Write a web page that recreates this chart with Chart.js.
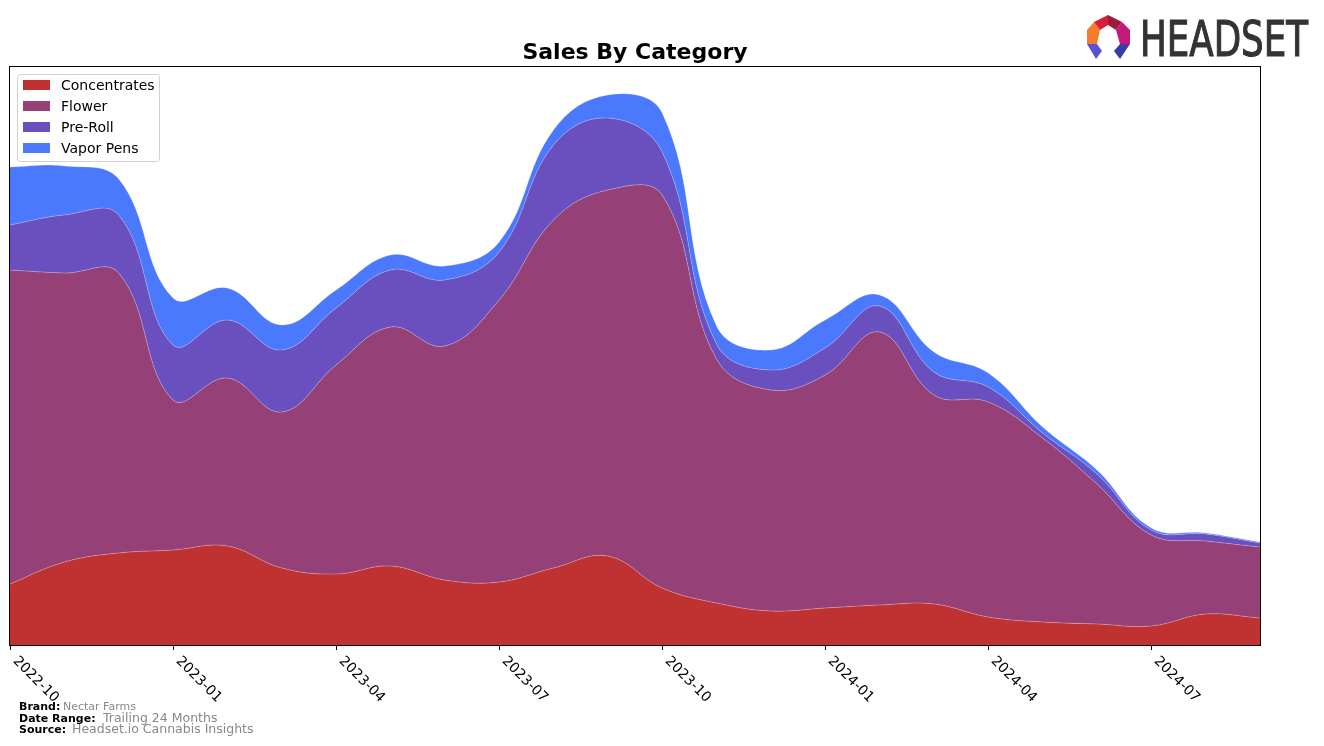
<!DOCTYPE html>
<html>
<head>
<meta charset="utf-8">
<script src="https://cdn.jsdelivr.net/npm/chart.js@4/dist/chart.umd.min.js"></script>
<style>
  body { margin: 0; background: #fff; }
  canvas { display: block; }
</style>
</head>
<body>
<canvas id="salesChart" width="1324" height="746" style="width:1324px;height:746px"></canvas>
<script>
// months shown, one point per month
const months = ['2022-10','2022-11','2022-12','2023-01','2023-02','2023-03','2023-04','2023-05',
    '2023-06','2023-07','2023-08','2023-09','2023-10','2023-11','2023-12','2024-01',
    '2024-02','2024-03','2024-04','2024-05','2024-06','2024-07','2024-08','2024-09'];
const tickLabels = ['2022-10','2023-01','2023-04','2023-07','2023-10','2024-01','2024-04','2024-07'];

// values (no units on the y axis)
const concentrates = [61, 83, 92, 95, 99, 77, 71, 79, 65, 63, 77, 89, 57, 42, 34, 37, 40, 41, 28, 23, 21, 19, 31, 27];
const flower = [314, 289, 280, 150, 168, 156, 209, 239, 234, 282, 348, 366, 393, 244, 221, 233, 273, 209, 215, 184, 140, 91, 73, 71];
const preRoll = [45, 58, 58, 55, 58, 62, 57, 57, 66, 48, 75, 72, 43, 15, 20, 27, 26, 23, 15, 5, 10, 5, 7, 4];
const vaporPens = [58, 49, 36, 47, 32, 25, 18, 15, 14, 10, 15, 23, 39, 18, 20, 28, 11, 20, 14, 6, 4, 2, 1, 1];

const series = [
    { name: 'Concentrates', data: concentrates, color: '#c03232' },
    { name: 'Flower', data: flower, color: '#954178' },
    { name: 'Pre-Roll', data: preRoll, color: '#6a4fbe' },
    { name: 'Vapor Pens', data: vaporPens, color: '#4a79fe' },
];

const extras = {
    id: 'extras',
    afterDraw(chart) {
        const ctx = chart.ctx;
        const area = chart.chartArea;
        const xScale = chart.scales.x;
        ctx.save();

        // frame
        ctx.strokeStyle = '#000';
        ctx.lineWidth = 1;
        ctx.strokeRect(Math.round(area.left) - 0.5, Math.round(area.top) - 0.5,
            Math.round(area.right - area.left) + 1, Math.round(area.bottom - area.top) + 1);

        // x ticks and rotated labels
        ctx.font = '14px "DejaVu Sans"';
        ctx.fillStyle = '#000';
        ctx.textAlign = 'left';
        ctx.textBaseline = 'top';
        tickLabels.forEach(label => {
            const x = Math.round(xScale.getPixelForValue(months.indexOf(label)));
            ctx.beginPath();
            ctx.moveTo(x + 0.5, area.bottom);
            ctx.lineTo(x + 0.5, area.bottom + 5);
            ctx.stroke();
            ctx.save();
            ctx.translate(x + 10, area.bottom + 9);
            ctx.rotate(Math.PI / 4);
            ctx.fillText(label, 0, 0);
            ctx.restore();
        });

        // title
        ctx.font = 'bold 22px "DejaVu Sans"';
        ctx.textAlign = 'center';
        ctx.textBaseline = 'alphabetic';
        ctx.fillText('Sales By Category', (area.left + area.right) / 2, 59);

        // legend
        ctx.fillStyle = 'rgba(255,255,255,0.85)';
        ctx.strokeStyle = '#d0d0d0';
        ctx.beginPath();
        ctx.roundRect(17.5, 74.5, 142, 87, 3);
        ctx.fill();
        ctx.stroke();
        ctx.font = '14px "DejaVu Sans"';
        ctx.textAlign = 'left';
        ctx.textBaseline = 'middle';
        series.forEach((s, i) => {
            const y = 85 + i * 21;
            ctx.fillStyle = s.color;
            ctx.fillRect(23, y - 5, 27, 10);
            ctx.fillStyle = '#000';
            ctx.fillText(s.name, 61, y + 1);
        });

        // footer
        ctx.textBaseline = 'alphabetic';
        const footer = [
            ['Brand:', 'Nectar Farms', 710, 63, 11],
            ['Date Range:', 'Trailing 24 Months', 722, 103, 12.5],
            ['Source:', 'Headset.io Cannabis Insights', 733, 72, 12.5],
        ];
        footer.forEach(([k, v, y, vx, size]) => {
            ctx.font = 'bold 11px "DejaVu Sans"';
            ctx.fillStyle = '#000';
            ctx.fillText(k, 19, y);
            ctx.font = size + 'px "DejaVu Sans"';
            ctx.fillStyle = '#888';
            ctx.fillText(v, vx, y);
        });

        // logo
        const polys = [
            ['#f47c2a', [[1087,30],[1094,22],[1100,30],[1097,44],[1087,44]]],
            ['#d81f3a', [[1094,22],[1108,15],[1108,25],[1100,30]]],
            ['#9e1b3a', [[1108,15],[1122,22],[1116,30],[1108,25]]],
            ['#c2197a', [[1122,22],[1130,30],[1130,44],[1120,44],[1116,30]]],
            ['#5a52d4', [[1087,44],[1097,44],[1102,51],[1096,59]]],
            ['#3b3aa8', [[1130,44],[1120,44],[1114,51],[1120,59]]],
        ];
        polys.forEach(([c, pts]) => {
            ctx.fillStyle = c;
            ctx.beginPath();
            pts.forEach((p, j) => j ? ctx.lineTo(p[0], p[1]) : ctx.moveTo(p[0], p[1]));
            ctx.closePath();
            ctx.fill();
        });
        ctx.font = '49px "DejaVu Sans"';
        ctx.fillStyle = '#333';
        ctx.strokeStyle = '#333';
        ctx.lineWidth = 1.2;
        const w = ctx.measureText('HEADSET').width;
        ctx.save();
        ctx.translate(1140, 56);
        ctx.scale(168 / w, 1);
        ctx.fillText('HEADSET', 0, 0);
        ctx.strokeText('HEADSET', 0, 0);
        ctx.restore();

        ctx.restore();
    }
};

const ctx = document.getElementById('salesChart').getContext('2d');
new Chart(ctx, {
    type: 'line',
    data: {
        labels: months,
        datasets: series.map((s, i) => ({
            label: s.name,
            data: s.data,
            backgroundColor: s.color,
            borderColor: 'rgba(255,255,255,0.25)',
            borderWidth: 1,
            pointRadius: 0,
            tension: 0.4,
            fill: i === 0 ? 'origin' : '-1'
        }))
    },
    options: {
        responsive: false,
        animation: false,
        layout: { padding: { left: 10, right: 64, top: 67, bottom: 101 } },
        plugins: {
            legend: { display: false },
            title: { display: false },
            tooltip: { enabled: false }
        },
        scales: {
            x: { display: false, offset: false },
            y: { display: false, stacked: true, min: 0, max: 578 }
        }
    },
    plugins: [extras]
});
</script>
</body>
</html>
